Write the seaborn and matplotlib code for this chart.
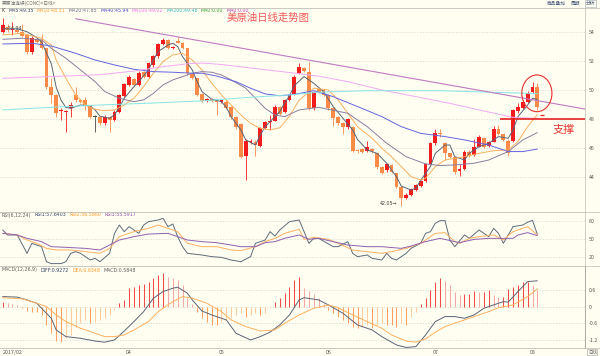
import numpy as np
import pandas as pd
import seaborn as sns
import matplotlib.pyplot as plt
from matplotlib.patches import Ellipse
from matplotlib.lines import Line2D

# ---------------- data (daily candles) ----------------
opens = [54.01, 54.35, 54.10, 54.12, 54.01, 53.78, 52.64, 53.48, 53.44, 52.86,
         50.23, 49.66, 48.55, 48.50, 48.79, 49.66, 49.31, 49.31, 48.97, 48.17,
         48.17, 47.71, 48.12, 47.94, 48.51, 49.59, 50.35, 50.73, 50.35, 51.26,
         50.92, 51.72, 52.33, 53.16, 53.43, 52.86, 53.39, 53.25, 52.86, 51.10,
         50.80, 49.72, 49.27, 49.38, 49.31, 49.20, 49.20, 48.81, 48.17, 47.66,
         45.50, 46.40, 46.45, 46.15, 47.37, 47.83, 47.90, 48.86, 48.51, 49.31,
         49.72, 51.15, 51.49, 51.26, 48.74, 50.05, 50.00, 49.66, 48.74, 48.12,
         47.76, 47.44, 47.44, 45.88, 45.92, 45.83, 45.92, 45.65, 44.74, 44.51,
         44.85, 44.28, 43.36, 42.60, 42.79, 43.13, 43.43, 43.77, 44.92, 46.33,
         47.07, 46.33, 45.65, 45.37, 44.46, 44.55, 45.76, 45.53, 46.11, 46.68,
         46.15, 46.45, 47.30, 46.98, 46.52, 46.50, 48.55, 48.78, 49.20, 49.85,
         50.23]
closes = [54.47, 54.12, 54.20, 54.01, 53.71, 52.64, 53.55, 53.32, 52.86, 50.23,
          49.66, 48.45, 48.60, 48.58, 48.97, 49.31, 49.20, 48.97, 48.17, 48.17,
          47.71, 48.17, 47.94, 48.51, 49.66, 50.39, 50.92, 50.35, 51.19, 50.87,
          51.83, 52.33, 53.16, 53.43, 52.86, 52.98, 53.25, 52.86, 51.14, 50.80,
          49.66, 49.27, 49.38, 49.27, 49.20, 49.31, 48.74, 48.12, 47.48, 45.42,
          46.52, 46.52, 46.22, 47.37, 47.83, 47.90, 48.86, 48.35, 49.31, 49.66,
          50.92, 51.60, 51.33, 48.74, 49.88, 49.88, 49.66, 48.74, 48.05, 47.71,
          47.44, 47.98, 45.83, 45.81, 45.76, 46.06, 45.83, 44.74, 44.28, 44.92,
          44.40, 43.36, 42.56, 42.79, 43.18, 43.48, 43.77, 44.92, 46.33, 47.02,
          46.98, 45.65, 45.37, 44.39, 44.55, 45.76, 45.47, 46.11, 46.75, 46.11,
          46.45, 47.30, 46.98, 46.57, 45.70, 48.63, 48.80, 49.20, 49.80, 50.23,
          48.80]
highs = [54.94, 54.50, 54.70, 54.20, 54.53, 53.85, 53.70, 53.60, 53.85, 52.90,
         50.80, 49.70, 48.74, 48.65, 49.20, 50.23, 49.40, 49.54, 49.00, 48.28,
         48.20, 48.25, 48.20, 48.60, 49.70, 50.45, 51.00, 50.80, 51.30, 51.30,
         51.90, 52.40, 53.25, 53.60, 53.50, 53.05, 53.66, 53.30, 52.90, 51.20,
         50.85, 49.80, 49.45, 49.45, 49.40, 49.40, 49.30, 48.90, 48.20, 47.70,
         46.60, 46.60, 46.55, 47.45, 47.90, 48.28, 48.95, 48.90, 49.40, 49.75,
         51.00, 51.83, 51.60, 51.94, 49.95, 50.10, 50.10, 49.70, 48.80, 48.20,
         47.80, 48.05, 47.50, 45.95, 46.00, 46.50, 46.00, 45.70, 44.80, 45.00,
         44.95, 44.30, 43.40, 42.90, 43.25, 43.55, 43.85, 45.00, 46.40, 47.30,
         47.35, 46.40, 45.70, 45.40, 44.90, 45.85, 45.85, 46.60, 46.90, 46.75,
         46.50, 47.50, 47.60, 47.00, 46.60, 48.70, 49.10, 49.30, 49.95, 50.57,
         50.46]
lows = [53.89, 54.00, 53.80, 53.90, 53.65, 52.50, 52.50, 53.20, 52.80, 50.10,
        49.10, 48.17, 47.94, 47.14, 48.17, 49.20, 49.10, 48.63, 48.10, 47.14,
        47.60, 47.60, 47.14, 47.90, 48.45, 49.50, 50.30, 50.30, 50.30, 50.80,
        50.85, 51.60, 52.20, 53.10, 52.80, 52.80, 53.20, 52.80, 51.00, 50.75,
        49.60, 49.20, 49.20, 49.20, 48.28, 49.10, 48.70, 48.00, 47.30, 45.30,
        43.81, 46.30, 45.50, 46.10, 47.30, 47.25, 47.85, 48.30, 48.45, 49.25,
        49.65, 51.10, 51.25, 48.60, 48.60, 49.80, 49.60, 48.60, 47.50, 47.60,
        47.00, 47.35, 45.75, 45.70, 45.65, 45.75, 45.70, 44.60, 44.20, 44.40,
        44.30, 43.30, 42.05, 42.50, 42.70, 43.05, 43.35, 43.70, 44.85, 46.25,
        46.80, 45.20, 45.30, 44.20, 44.10, 44.50, 45.40, 45.45, 46.05, 46.00,
        46.05, 46.40, 46.90, 46.50, 45.50, 46.40, 48.45, 48.70, 49.10, 49.80,
        48.60]

# moving averages (day index, value) as drawn
ma5_days = [0, 3, 5, 7, 8, 10, 11, 12, 13, 14, 16, 18, 19, 20, 22, 23, 24, 25, 27, 28,
            30, 31, 32, 34, 35, 36, 37, 39, 40, 41, 43, 45, 46, 47, 49, 50, 52, 53, 54, 56,
            57, 58, 59, 60, 62, 64, 66, 68, 70, 72, 73, 75, 77, 79, 81, 82, 84, 85, 86, 88,
            89, 91, 92, 93, 95, 96, 98, 100, 102, 104, 105, 106, 108, 109, 110]
ma5_vals = [54.2, 54.2, 54.0, 53.6, 53.3, 51.8, 50.2, 49.3, 48.8, 48.74, 48.97, 48.9, 48.63, 48.2, 48.06,
            48.29, 48.81, 49.43, 50.23, 50.57, 51.38, 52.06, 52.64, 53.09, 53.21, 52.98, 52.29, 51.38, 50.57, 49.89,
            49.36, 49.2, 48.81, 48.17, 47.26, 46.57, 46.22, 46.91, 47.48, 48.17, 48.51, 49.09, 49.6, 50.3, 50.92,
            50.46, 49.89, 48.86, 48.06, 47.26, 46.6, 45.88, 45.65, 44.97, 44.05, 43.4, 43.13, 43.25, 43.8, 44.74,
            45.65, 46.22, 46.22, 45.42, 45.19, 45.65, 46.11, 46.34, 46.8, 46.68, 47.26, 48.17, 48.97, 49.43, 49.35]
ma10_days = [0, 4, 8, 10, 11, 13, 15, 17, 19, 21, 23, 25, 27, 29, 31, 33, 35, 37, 39, 41,
             43, 45, 47, 49, 51, 53, 55, 57, 59, 61, 64, 67, 69, 71, 73, 76, 78, 80, 82, 84,
             86, 87, 89, 91, 93, 95, 98, 101, 104, 106, 108, 110]
ma10_vals = [53.78, 53.89, 53.55, 53.09, 52.06, 50.8, 49.66, 48.97, 48.67, 48.58, 48.63, 48.97, 49.43,
             50.23, 51.15, 51.95, 52.41, 52.52, 52.06, 51.38, 50.46, 49.66, 48.97, 48.28, 47.71, 47.37,
             47.26, 47.4, 48.2, 49.32, 50.12, 50.0, 49.32, 48.4, 47.48, 46.68, 46.0, 45.42, 44.74, 44.05,
             43.82, 43.93, 44.74, 45.19, 45.31, 45.42, 45.65, 45.83, 45.88, 46.45, 47.48, 48.31]
ma20_days = [0, 4, 8, 10, 13, 16, 19, 21, 24, 27, 29, 31, 33, 35, 37, 39, 41, 43, 45, 47,
             50, 52, 54, 56, 58, 61, 65, 71, 75, 79, 83, 87, 90, 93, 97, 100, 104, 107, 110]
ma20_vals = [53.48, 53.55, 53.44, 52.86, 52.18, 51.38, 50.57, 49.89, 49.43, 49.2, 49.32, 49.77, 50.35,
             50.69, 50.92, 51.15, 51.26, 51.22, 51.03, 50.69, 50.12, 49.43, 48.74, 48.28, 48.17, 48.63,
             48.81, 48.4, 47.48, 46.34, 45.42, 44.92, 44.81, 44.85, 44.97, 45.19, 45.77, 46.57, 47.07]
ma40_days = [0, 6, 10, 15, 19, 23, 27, 31, 35, 39, 41, 44, 48, 51, 54, 57, 60, 64, 68, 73,
             78, 82, 86, 91, 95, 100, 104, 107, 110]
ma40_vals = [53.16, 53.21, 53.02, 52.52, 52.06, 51.72, 51.42, 51.26, 51.22, 51.15, 51.15, 50.96, 50.57,
             50.12, 49.73, 49.6, 49.7, 49.95, 49.54, 48.86, 48.17, 47.48, 47.02, 46.8, 46.57, 46.22,
             45.77, 45.77, 45.94]
ma100_days = [0, 10, 20, 27, 33, 38, 41, 45, 50, 55, 59, 65, 71, 78, 85, 92, 98, 105, 110]
ma100_vals = [50.8, 50.92, 51.05, 51.3, 51.6, 51.8, 51.85, 51.75, 51.55, 51.35, 51.2, 50.95, 50.57,
              50.0, 49.54, 49.08, 48.63, 48.12, 48.05]
ma200_days = [0, 10, 20, 30, 41, 51, 59, 65, 75, 90, 100, 110]
ma200_vals = [48.63, 48.81, 48.97, 49.09, 49.25, 49.5, 49.66, 49.85, 49.95, 49.95, 49.85, 49.75]

# hand-drawn analysis marks
trend_days = [15.0, 119.8]
trend_prices = [54.89, 48.69]
support_price = 48.0
support_from = 102.3
circle_day, circle_price, circle_w, circle_h = 109.9, 49.77, 6.2, 2.52
last_mark = 48.27

# RSI(6,12,24)
rsi1_days = [0, 1, 3, 5, 6, 8, 9, 10, 12, 13, 14, 15, 16, 18, 19, 20, 22, 23, 24, 25,
             26, 28, 29, 30, 32, 33, 34, 35, 36, 37, 38, 41, 43, 45, 47, 49, 51, 52, 54, 55,
             56, 57, 59, 61, 63, 64, 65, 68, 69, 71, 72, 73, 75, 76, 78, 79, 80, 81, 83, 84,
             86, 87, 88, 89, 90, 91, 92, 93, 95, 96, 98, 100, 101, 102, 103, 105, 107, 108, 109, 110]
rsi1_vals = [65, 56.7, 56.7, 26.1, 42.8, 37.2, 12.2, 9, 9, 12.2, 26.1, 28.9, 26.1, 15, 17.8, 12.2, 26.1,
             59.4, 73.3, 62.2, 70.6, 59.4, 73.3, 78.9, 81.7, 84.4, 70.6, 75, 53.9, 37.2, 26.1, 23.3, 20.6,
             19.4, 15, 12.2, 20.6, 42.8, 48.3, 62.2, 55, 65, 78.9, 81.7, 42.8, 51.1, 51.1, 37.2, 37.2, 45.6,
             26.1, 20.6, 23.3, 17.8, 15, 26.1, 17.8, 15, 26.1, 34.4, 42.8, 59.4, 62.2, 76.1, 80.6, 80.6, 48.3,
             37.2, 56.7, 51.1, 65, 53.9, 67.8, 59.4, 42.8, 70.6, 73.3, 78, 81, 57.64]
rsi2_days = [0, 3, 5, 7, 9, 11, 14, 17, 20, 22, 24, 27, 30, 32, 34, 36, 38, 41, 44, 47,
             49, 52, 54, 56, 58, 61, 62, 64, 67, 69, 72, 75, 78, 80, 83, 86, 89, 91, 93, 94,
             96, 98, 101, 103, 105, 108, 110]
rsi2_vals = [59.4, 56.7, 48.3, 42.8, 34.4, 31.7, 31.7, 28.9, 26.1, 34.4, 53.9, 62.2, 67.8, 73.3, 67.8,
             62.2, 42.8, 37.2, 37.2, 31.7, 30.6, 37.2, 45.6, 51.1, 59.4, 66.1, 49.4, 52.8, 49.4, 42.8,
             31.7, 28.9, 26.1, 28.9, 34.4, 42.8, 59.4, 60.6, 45.6, 42.8, 51.1, 53.9, 56.7, 48.3, 62.2,
             70.6, 56.59]
rsi3_days = [0, 3, 5, 8, 10, 13, 17, 20, 22, 24, 27, 30, 34, 36, 38, 41, 44, 47, 49, 52,
             54, 56, 58, 61, 63, 65, 68, 71, 75, 78, 82, 84, 87, 90, 93, 94, 97, 100, 103, 105,
             106, 108, 110]
rsi3_vals = [59.4, 56.7, 51.1, 45.6, 37.2, 36.1, 34.4, 31.7, 40, 48.3, 53.9, 58.3, 59.4, 53.9, 48.3,
             45.6, 43.9, 40, 37.2, 37.2, 43.9, 45.6, 51.1, 56.7, 49.4, 51.1, 45.6, 40, 37.2, 37.2, 34.4,
             38.3, 45.6, 51.1, 45.6, 43.9, 49.4, 51.1, 51.1, 51.1, 56.7, 60.6, 55.59]

# MACD(12,26,9)
diff_days = [0, 3, 5, 7, 8, 10, 11, 13, 16, 19, 21, 23, 25, 27, 29, 31, 33, 35, 36, 38,
             39, 41, 43, 46, 48, 51, 53, 55, 57, 59, 61, 62, 65, 67, 70, 73, 76, 78, 81, 83,
             85, 87, 89, 91, 93, 95, 97, 99, 101, 103, 104, 106, 108, 110]
diff_vals = [0.36, 0.34, 0.24, 0.12, -0.06, -0.42, -0.84, -1.08, -1.14, -1.24, -1.28, -1.2, -0.88, -0.54,
             -0.18, 0.3, 0.54, 0.66, 0.7, 0.48, 0.24, -0.16, -0.3, -0.48, -0.96, -1.2, -1.08, -0.92, -0.66,
             -0.3, 0.24, 0.32, 0.24, 0.06, -0.24, -0.66, -0.84, -1.08, -1.38, -1.47, -1.44, -1.02, -0.54,
             -0.36, -0.36, -0.42, -0.3, -0.06, 0.06, 0.18, 0.16, 0.54, 0.9, 0.9272]
dea_days = [0, 4, 6, 9, 11, 13, 16, 19, 21, 23, 25, 27, 30, 32, 35, 37, 39, 42, 45, 47,
            50, 53, 56, 58, 61, 64, 67, 69, 72, 75, 78, 80, 83, 85, 87, 89, 91, 94, 97, 100,
            102, 105, 108, 110]
dea_vals = [0.32, 0.28, 0.18, 0.0, -0.3, -0.54, -0.78, -0.96, -1.08, -1.08, -1.02, -0.84, -0.54, -0.18,
            0.18, 0.36, 0.3, 0.12, -0.18, -0.48, -0.72, -0.88, -0.84, -0.6, -0.3, -0.06, 0.06, -0.04,
            -0.3, -0.54, -0.78, -1.02, -1.24, -1.28, -1.16, -0.92, -0.72, -0.54, -0.36, -0.18, -0.04,
            0.06, 0.36, 0.6348]
macd_hist = [0.18, 0.14, 0.1, 0.06, -0.06, -0.16, -0.2, -0.2, -0.3, -0.66,
             -0.96, -1.24, -1.26, -1.14, -1.02, -0.72, -0.6, -0.48, -0.6, -0.54,
             -0.48, -0.42, -0.3, -0.12, 0.12, 0.24, 0.66, 0.7, 0.76, 0.8,
             0.9, 1.04, 1.12, 1.2, 1.08, 1.02, 0.96, 0.78, 0.3, 0.08,
             -0.18, -0.42, -0.54, -0.66, -0.66, -0.54, -0.48, -0.42, -0.3, -0.24,
             -0.36, -0.3, -0.24, -0.3, -0.24, -0.06, 0.18, 0.3, 0.48, 0.72,
             0.96, 1.08, 0.68, 0.56, 0.44, 0.32, 0.08, -0.12, -0.24, -0.36,
             -0.48, -0.6, -0.72, -0.76, -0.72, -0.66, -0.78, -0.68, -0.6, -0.66,
             -0.66, -0.72, -0.6, -0.66, -0.36, -0.2, 0.1, 0.3, 0.6, 0.88,
             1.04, 0.92, 0.76, 0.54, 0.4, 0.44, 0.44, 0.56, 0.54, 0.54,
             0.6, 0.4, 0.36, 0.36, 0.64, 0.72, 0.78, 0.88, 0.9, 0.76,
             0.6]

month_ticks = [0, 26, 45, 67, 89, 109]
month_labels = ['2017/02', '04', '05', '06', '07', '08']

ma_header = [('K', '#404040'), ('MA5:49.35', '#34446a'), ('MA10:48.31', '#ff9a2a'),
             ('MA20:47.85', '#6a6a8a'), ('MA40:45.94', '#4a4ad0'), ('MA100:49.02', '#f070f0'),
             ('MA200:49.48', '#30b8c0'), ('MA0:0.00', '#30a030'), ('MA0:0.00', '#b040b0')]
rsi_header = [('RSI(6,12,24)', '#606060'), ('RSI1:57.6403', '#34446a'),
              ('RSI2:56.5860', '#ff9a2a'), ('RSI3:55.5917', '#9050b0')]
macd_header = [('MACD(12,26,9)', '#606060'), ('DIFF:0.9272', '#34446a'),
               ('DEA:0.6348', '#ff9a2a'), ('MACD:0.5848', '#606060')]

# ---------------- drawing ----------------
sns.set_style("white")
plt.rcParams['font.family'] = ['Noto Sans CJK SC', 'DejaVu Sans']
plt.rcParams['axes.unicode_minus'] = False

BG = '#fffef0'
GRID = '#d6d6cc'
EDGE = '#c8c8be'
W, H = 600, 356
fig = plt.figure(figsize=(6, 3.56), dpi=100, facecolor=BG)


def panel(top, bottom):
    ax = fig.add_axes([0, 1 - bottom / H, 585 / W, (bottom - top) / H])
    ax.set_facecolor(BG)
    ax.set_xlim(-0.556, 119.8)
    for side, sp in ax.spines.items():
        sp.set_color(EDGE)
        sp.set_linewidth(0.6)
    ax.spines['left'].set_visible(False)
    ax.yaxis.tick_right()
    ax.tick_params(axis='y', length=0, labelsize=3.8, labelcolor='#555555', pad=2.5)
    ax.tick_params(axis='x', length=0, labelbottom=False)
    ax.grid(axis='y', color=GRID, lw=0.5, ls=(0, (2, 2)))
    ax.set_xlabel('')
    ax.set_ylabel('')
    return ax


def header(ax, y, items, size=3.4):
    t = fig.text(2 / W, 1 - y / H, items[0][0], color=items[0][1], fontsize=size,
                 va='center', ha='left', family='DejaVu Sans')
    for s, c in items[1:]:
        t = ax.annotate(s, xy=(1, 0.5), xycoords=t, xytext=(2.2, 0), textcoords='offset points',
                        va='center', ha='left', color=c, fontsize=size, family='DejaVu Sans',
                        annotation_clip=False)


ax_k = panel(8, 212)
ax_rsi = panel(212, 266)
ax_macd = panel(266, 348)

# --- candles
df = pd.DataFrame({'day': np.arange(len(opens)), 'open': opens, 'close': closes,
                   'high': highs, 'low': lows})
flat = df.close == df.open
up = df.close > df.open
ccol = np.where(flat, '#4a4a4a', np.where(up, '#f21c1c', '#fa8a48'))
ax_k.vlines(df.day, df.low, df.high, colors=ccol, lw=0.6, zorder=3)
body = (df.close - df.open).abs().clip(lower=0.035)
ax_k.bar(df.day, body, bottom=df[['open', 'close']].min(axis=1), width=0.78,
         color=ccol, linewidth=0, zorder=4)

# --- moving averages
ma_series = [('MA5', ma5_days, ma5_vals), ('MA10', ma10_days, ma10_vals),
             ('MA20', ma20_days, ma20_vals), ('MA40', ma40_days, ma40_vals),
             ('MA100', ma100_days, ma100_vals), ('MA200', ma200_days, ma200_vals)]
ma_df = pd.concat([pd.DataFrame({'day': d, 'value': v, 'line': n}) for n, d, v in ma_series])
ma_pal = {'MA5': '#5a6478', 'MA10': '#f9b060', 'MA20': '#8c7ea0', 'MA40': '#6464e0',
          'MA100': '#f2a8f2', 'MA200': '#86e6e6'}
sns.lineplot(data=ma_df, x='day', y='value', hue='line', palette=ma_pal, estimator=None,
             sort=False, lw=0.7, legend=False, zorder=5, ax=ax_k)

# --- analysis marks
sns.lineplot(x=trend_days, y=trend_prices, color='#c07ac0', lw=0.8, zorder=5, ax=ax_k)
ax_k.hlines(support_price, support_from, 119.8, color='#e52222', lw=1.2, zorder=6)
ax_k.add_patch(Ellipse((circle_day, circle_price), circle_w, circle_h, fill=False,
                       ec='#e53030', lw=0.8, zorder=6))
ax_k.hlines(last_mark, 110.5, 111.4, color='#e52222', lw=0.9, zorder=6)
ax_k.text(0.5, 54.25, '←' + f'{max(highs):.2f}', fontsize=3.4, color='#404040',
          va='center', ha='left', family='DejaVu Sans')
ax_k.text(81.2, 42.17, f'{min(lows):.2f}' + '→', fontsize=3.4, color='#404040',
          va='center', ha='right', family='DejaVu Sans')

ax_k.set_ylim(41.62, 55.63)
ax_k.set_yticks([44, 46, 48, 50, 52, 54])
ax_k.set_xlabel('')
ax_k.set_ylabel('')

# --- RSI
rsi_df = pd.concat([pd.DataFrame({'day': rsi1_days, 'value': rsi1_vals, 'line': 'RSI1'}),
                    pd.DataFrame({'day': rsi2_days, 'value': rsi2_vals, 'line': 'RSI2'}),
                    pd.DataFrame({'day': rsi3_days, 'value': rsi3_vals, 'line': 'RSI3'})])
sns.lineplot(data=rsi_df, x='day', y='value', hue='line', estimator=None, sort=False,
             palette={'RSI1': '#5f6b7a', 'RSI2': '#ffb060', 'RSI3': '#9060b0'},
             lw=0.7, legend=False, ax=ax_rsi)
ax_rsi.set_ylim(5, 95)
ax_rsi.set_yticks([20, 50, 80])
ax_rsi.set_xlabel('')
ax_rsi.set_ylabel('')

# --- MACD
hist = np.array(macd_hist)
prev = np.r_[hist[0], hist[:-1]]
hcol = np.where(hist >= 0, np.where(hist >= prev, '#f04a4a', '#f6a8a8'),
                np.where(hist <= prev, '#ffa060', '#ffcca0'))
ax_macd.vlines(np.arange(len(hist)), 0, hist, colors=hcol, lw=0.75, zorder=3)
macd_df = pd.concat([pd.DataFrame({'day': diff_days, 'value': diff_vals, 'line': 'DIFF'}),
                     pd.DataFrame({'day': dea_days, 'value': dea_vals, 'line': 'DEA'})])
sns.lineplot(data=macd_df, x='day', y='value', hue='line', estimator=None, sort=False,
             palette={'DIFF': '#5a6478', 'DEA': '#ffb060'}, lw=0.7, legend=False,
             zorder=4, ax=ax_macd)
ax_macd.set_ylim(-1.49, 1.46)
ax_macd.set_yticks([-1.2, -0.6, 0, 0.6])
ax_macd.set_yticklabels(['-1.2', '-0.6', '0', '0.6'])
ax_macd.set_xticks(month_ticks)
ax_macd.set_xticklabels(month_labels)
ax_macd.tick_params(axis='x', labelbottom=True, labelsize=3.8, labelcolor='#555555', pad=1.5)
ax_macd.get_xticklabels()[0].set_ha('left')
ax_macd.set_xlabel('')
ax_macd.set_ylabel('')

# --- panel separators across the full width
for y in (7.5, 212, 266, 348):
    fig.add_artist(Line2D([0, 1], [1 - y / H] * 2, color=EDGE, lw=0.6))
fig.add_artist(Line2D([585 / W] * 2, [1 - 348 / H, 1 - 266 / H], color='#a8a8a0', lw=0.6))

# --- texts
header(ax_k, 11, ma_header)
header(ax_rsi, 215, rsi_header)
header(ax_macd, 270, macd_header)

fig.text(2 / W, 1 - 3.5 / H, '美原油连续(CONC)<日线>', fontsize=3.4, color='#707070',
         va='center', ha='left')
fig.text(547 / W, 1 - 3.5 / H, '商品叠加', fontsize=3.4, color='#4a5a7a', va='center')
fig.text(571 / W, 1 - 3.5 / H, '周期', fontsize=3.4, color='#4a5a7a', va='center')
fig.text(586 / W, 1 - 3.5 / H, '分析', fontsize=3.4, color='#4a5a7a', va='center',
         bbox=dict(boxstyle='square,pad=0.15', fc=BG, ec='#9aa8b8', lw=0.4))
fig.text(588 / W, 1 - 352 / H, '日线', fontsize=3.2, color='#606060', va='center',
         bbox=dict(boxstyle='square,pad=0.15', fc=BG, ec='#a0a0a0', lw=0.4))

fig.text(268 / W, 1 - 18 / H, '美原油日线走势图', color='#f25a5a', fontsize=7.5,
         ha='center', va='center')
fig.text(564 / W, 1 - 130 / H, '支撑', color='#e53935', fontsize=8, ha='center', va='center')

fig.savefig('out.png', dpi=100, facecolor=BG)
